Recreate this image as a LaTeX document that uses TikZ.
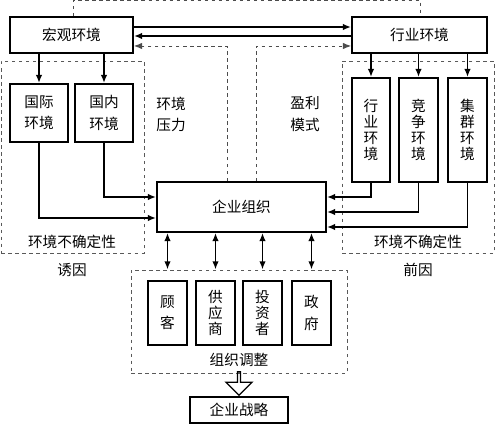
\documentclass[tikz,border=0pt]{standalone}
\usepackage{fontspec}
\setmainfont{Noto Sans CJK SC}
\usetikzlibrary{arrows.meta,shapes.arrows,positioning,fit,calc}

\begin{document}
\begin{tikzpicture}[x=0.3mm, y=-0.3mm,
  font=\fontsize{12.5}{18}\selectfont,
  box/.style={rectangle, draw, line width=1.5pt, inner sep=0pt, align=center},
  tall/.style={box, font=\fontsize{12.5}{13.5}\selectfont},
  zone/.style={rectangle, draw=black!65, dashed, line width=0.8pt, inner sep=0pt},
  note/.style={align=center},
  link/.style={-{Latex[length=7pt,width=5.5pt]}, line width=1.4pt},
  dlink/.style={-{Latex[length=7pt,width=5.5pt]}, draw=black!70, dashed, line width=0.8pt},
  both/.style={{Latex[length=7pt,width=5.5pt]}-{Latex[length=7pt,width=5.5pt]}, line width=1.4pt},
  hollow/.style={single arrow, draw, line width=1.1pt, shape border rotate=270, inner sep=0pt,
    minimum height=7mm, minimum width=7.8mm, single arrow head extend=1.4mm}]

\useasboundingbox (0,0) rectangle (495,425);

% dashed groups
\node[zone, fit={(1,61) (144,253)}] (leftzone) {};
\node[zone, fit={(342,61) (494,253)}] (rightzone) {};
\node[zone, fit={(131,270) (347,373)}] (adjust) {};

% environment
\node[box, minimum width=36.9mm, minimum height=10.8mm] (macro) at (71.5,35) {宏观环境};
\node[box, minimum width=40.5mm, minimum height=10.8mm] (industry) at (419.5,35) {行业环境};
\node[box, minimum width=17.4mm, minimum height=17.4mm] (intl) at (39,113) {国际\\环境};
\node[box, minimum width=17.4mm, minimum height=17.4mm] (dom) at (104,113) {国内\\环境};
\node[tall, minimum width=11.4mm, minimum height=31.2mm] (sector) at (371,130) {行\\业\\环\\境};
\node[tall, minimum width=11.7mm, minimum height=31.2mm] (comp) at (418.5,130) {竞\\争\\环\\境};
\node[tall, minimum width=11.7mm, minimum height=31.2mm] (cluster) at (467.5,130) {集\\群\\环\\境};

% firm and stakeholders
\node[box, minimum width=50.7mm, minimum height=15mm] (firm) at (241.5,207) {企业组织};
\node[box, minimum width=11.7mm, minimum height=19.2mm] (cust) at (167.5,313) {顾\\客};
\node[tall, minimum width=11.7mm, minimum height=19.2mm] (supp) at (215.5,313) {供\\应\\商};
\node[tall, minimum width=11.7mm, minimum height=19.2mm] (inv) at (262.5,313) {投\\资\\者};
\node[box, minimum width=11.7mm, minimum height=19.2mm] (gov) at (311.5,313) {政\\府};
\node[box, minimum width=29.4mm, minimum height=7.8mm] (strategy) at (239,410) {企业战略};

% labels
\node[note] (pressure) at (171,114) {环境\\压力};
\node[note] (profit) at (305,114) {盈利\\模式};
\node (leftunc) at (72,242) {环境不确定性};
\node (rightunc) at (418,242) {环境不确定性};
\node (cause) at (72,270) {诱因};
\node (antecedent) at (418,270) {前因};
\node (adjlabel) at (239,360) {组织调整};

% macro <-> industry
\draw[link] ($(macro.east)+(0,-8)$) -- ($(industry.west)+(0,-8)$);
\draw[link] ($(industry.west)+(0,1)$) -- ($(macro.east)+(0,1)$);
\draw[dlink] ($(firm.north west)+(71,0)$) |- ($(macro.east)+(0,11)$);
\draw[dlink] ($(firm.north west)+(100,0)$) |- ($(industry.west)+(0,11)$);
\draw[draw=black!70, dashed, line width=0.8pt] ($(macro.north west)+(64,0)$) -- ++(0,-16) -| ($(industry.north west)+(69,0)$);

% down to sub-environments
\draw[link] (macro.south -| intl.north) -- (intl.north);
\draw[link] (macro.south -| dom.north) -- (dom.north);
\draw[link] (industry.south -| sector.north) -- (sector.north);
\draw[link] (industry.south -| comp.north) -- (comp.north);
\draw[link] (industry.south -| cluster.north) -- (cluster.north);

% into the firm
\draw[link] (intl.south) |- ($(firm.west)+(0,11)$);
\draw[link] (dom.south) |- ($(firm.west)+(0,-10)$);
\draw[link] (sector.south) |- ($(firm.east)+(0,-10)$);
\draw[link] (comp.south) |- ($(firm.east)+(0,5)$);
\draw[link] (cluster.south) |- ($(firm.east)+(0,20)$);

% firm <-> stakeholders
\foreach \s in {cust,supp,inv,gov}
  \draw[both] (firm.south -| \s.north) -- (adjust.north -| \s.north);

% adjustment -> strategy
\node[hollow, anchor=tip] (push) at (strategy.north) {};

\end{tikzpicture}
\end{document}
